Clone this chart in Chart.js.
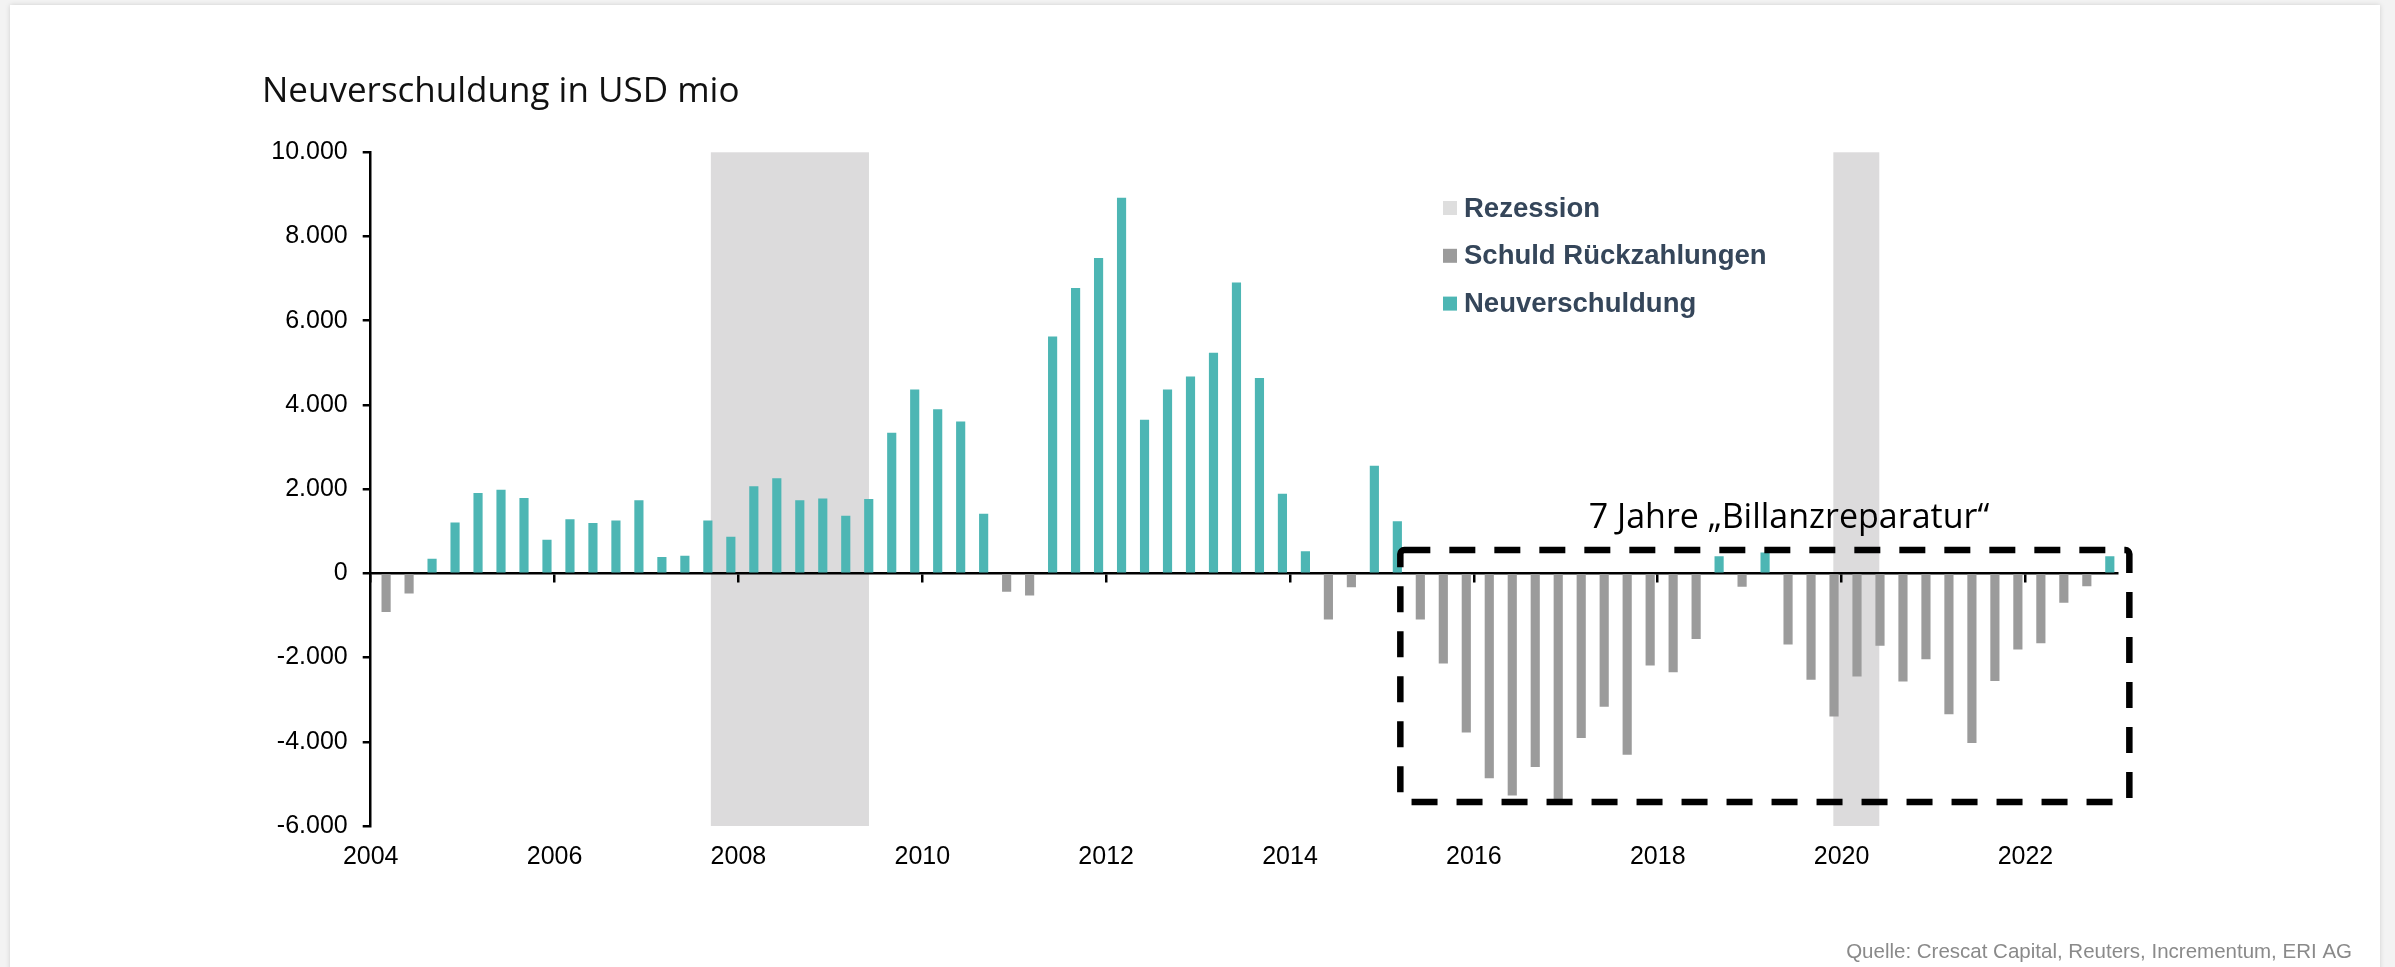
<!DOCTYPE html>
<html>
<head>
<meta charset="utf-8">
<title>Neuverschuldung in USD mio</title>
<script src="https://cdn.jsdelivr.net/npm/chart.js@4.4.1/dist/chart.umd.min.js"></script>
<style>
    html, body {
        margin: 0;
        padding: 0;
        background: #f3f3f3;
        overflow: hidden;
    }

    /* White card the chart sits on */
    #card {
        position: absolute;
        left: 10px;
        top: 5px;
        width: 2370px;
        height: 990px;
        background: #ffffff;
        box-shadow: 0 0 5px rgba(0, 0, 0, 0.15);
    }

    #chart {
        position: absolute;
        left: 0;
        top: 0;
    }
</style>
</head>
<body>
<div id="card"></div>
<canvas id="chart" width="2395" height="967"></canvas>

<script>
// Years covered by the chart, each one has four quarterly bars
let years = [2004, 2005, 2006, 2007, 2008, 2009, 2010, 2011, 2012, 2013,
             2014, 2015, 2016, 2017, 2018, 2019, 2020, 2021, 2022];
let quarters = ['Q1', 'Q2', 'Q3', 'Q4'];

// Net new debt per quarter in USD mio (negative = debt repayment)
let netDebt = [
    -910, -470, 340, 1200,        // 2004
    1900, 1980, 1780, 790,        // 2005
    1280, 1190, 1250, 1730,       // 2006
    380, 410, 1250, 860,          // 2007
    2060, 2250, 1730, 1770,       // 2008
    1360, 1760, 3330, 4360,       // 2009
    3890, 3600, 1410, -430,       // 2010
    -520, 5620, 6770, 7480,       // 2011
    8910, 3640, 4360, 4670,       // 2012
    5230, 6900, 4630, 1880,       // 2013
    520, -1090, -320, 2550,       // 2014
    1230, -1090, -2130, -3770,    // 2015
    -4860, -5270, -4590, -5380,   // 2016
    -3900, -3160, -4300, -2180,   // 2017
    -2340, -1550, 400, -310,      // 2018
    490, -1680, -2520, -3390,     // 2019
    -2440, -1710, -2560, -2030,   // 2020
    -3340, -4020, -2550, -1800,   // 2021
    -1650, -690, -300, 400        // 2022
];

// Recession periods (decimal years)
let recessions = [
    [2007.70, 2009.42],
    [2019.91, 2020.41]
];

// Tick labels
let yearTicks = [2004, 2006, 2008, 2010, 2012, 2014, 2016, 2018, 2020, 2022];
let valueTicks = [-6000, -4000, -2000, 0, 2000, 4000, 6000, 8000, 10000];

// The dashed "7 Jahre" box, in data units
let repairBox = {
    from: 2015.20, to: 2023.13,
    top: 553, bottom: -5430,
    text: '7 Jahre \u201EBillanzreparatur\u201C',
    textX: 2017.25, textY: 1070
};

let titleText = 'Neuverschuldung in USD mio';
let sourceText = 'Quelle: Crescat Capital, Reuters, Incrementum, ERI AG';

// Colors
let tealColor = '#4db6b4';
let greyColor = '#9b9b9b';
let recessionColor = '#dcdbdc';

// Bars sit about two thirds into their quarter
let barPosInQuarter = 0.67;

// Split the quarters into repayments (grey) and new debt (teal)
let repayPoints = [];
let newDebtPoints = [];
years.forEach((year, i) => {
    quarters.forEach((q, j) => {
        let value = netDebt[i * 4 + j];
        let point = { x: year + (j + barPosInQuarter) / 4, y: value };
        if (value < 0) {
            repayPoints.push(point);
        } else {
            newDebtPoints.push(point);
        }
    });
});

// Year ticks for both x axes
function setYearTicks(scale) {
    scale.ticks = yearTicks.map(v => ({ value: v }));
}

// Draws the recession shading, the dashed box, legend, title and source
const decorations = {
    id: 'decorations',

    beforeDraw(chart) {
        let { ctx, chartArea } = chart;
        let x = chart.scales.x;

        ctx.save();
        ctx.fillStyle = recessionColor;
        recessions.forEach(([start, end]) => {
            let x0 = x.getPixelForValue(start);
            let x1 = x.getPixelForValue(end);
            ctx.fillRect(x0, chartArea.top, x1 - x0, chartArea.bottom - chartArea.top);
        });
        ctx.restore();
    },

    afterDraw(chart) {
        let { ctx } = chart;
        let x = chart.scales.x;
        let y = chart.scales.y;

        ctx.save();

        // Dashed box around the repayment years
        let bx0 = x.getPixelForValue(repairBox.from);
        let bx1 = x.getPixelForValue(repairBox.to);
        let by0 = y.getPixelForValue(repairBox.top);
        let by1 = y.getPixelForValue(repairBox.bottom);
        ctx.strokeStyle = '#000000';
        ctx.lineWidth = 6.5;
        ctx.setLineDash([26, 19]);
        ctx.beginPath();
        if (ctx.roundRect) {
            ctx.roundRect(bx0, by0, bx1 - bx0, by1 - by0, 4);
        } else {
            ctx.rect(bx0, by0, bx1 - bx0, by1 - by0);
        }
        ctx.stroke();
        ctx.setLineDash([]);

        // Box label
        ctx.fillStyle = '#000000';
        ctx.font = '34px "Open Sans", "Noto Sans", sans-serif';
        ctx.textAlign = 'left';
        ctx.textBaseline = 'alphabetic';
        ctx.fillText(repairBox.text, x.getPixelForValue(repairBox.textX), y.getPixelForValue(repairBox.textY));

        // Title
        ctx.fillStyle = '#111111';
        ctx.font = '35px "Open Sans", "Noto Sans", sans-serif';
        ctx.fillText(titleText, 262, 102);

        // Legend: recession first, then the two bar series
        let legendItems = [{ label: 'Rezession', color: '#dedede' }];
        chart.data.datasets.forEach(ds => {
            legendItems.push({ label: ds.label, color: ds.backgroundColor });
        });
        ctx.font = 'bold 27.5px "Liberation Sans", Arial, sans-serif';
        ctx.textBaseline = 'middle';
        legendItems.forEach((item, i) => {
            let cy = 208 + i * 47.8;
            ctx.fillStyle = item.color;
            ctx.fillRect(1443, cy - 7, 14, 14);
            ctx.fillStyle = '#35465a';
            ctx.fillText(item.label, 1464, cy + 1);
        });

        // Source line
        ctx.font = '20.5px "Liberation Sans", Arial, sans-serif';
        ctx.fillStyle = '#8a8a8a';
        ctx.textAlign = 'right';
        ctx.textBaseline = 'alphabetic';
        ctx.fillText(sourceText, 2352, 958);

        ctx.restore();
    }
};

let ctx = document.getElementById('chart');

let debtChart = new Chart(ctx, {
    type: 'bar',
    data: {
        datasets: [{
            label: 'Schuld R\u00FCckzahlungen',
            data: repayPoints,
            backgroundColor: greyColor,
            xAxisID: 'x',
            yAxisID: 'y',
            grouped: false,
            barThickness: 8.5,
            borderWidth: 0
        }, {
            label: 'Neuverschuldung',
            data: newDebtPoints,
            backgroundColor: tealColor,
            xAxisID: 'x',
            yAxisID: 'y',
            grouped: false,
            barThickness: 8.5,
            borderWidth: 0
        }]
    },
    options: {
        responsive: false,
        animation: false,
        layout: {
            padding: { left: 240.7, right: 277.6, top: 152.3, bottom: 81 }
        },
        plugins: {
            legend: { display: false },
            tooltip: { enabled: false }
        },
        scales: {
            // Bottom axis: only the year labels
            x: {
                type: 'linear',
                min: 2004,
                max: 2023,
                offset: false,
                grid: { display: false, drawTicks: false, offset: false },
                border: { display: false },
                afterBuildTicks: setYearTicks,
                afterFit: scale => { scale.height = 60; },
                ticks: {
                    color: '#000000',
                    padding: 16,
                    maxRotation: 0,
                    font: { family: '"Liberation Sans", Arial, sans-serif', size: 25 },
                    callback: value => String(value)
                }
            },
            // Zero line with the year tick marks
            xZero: {
                type: 'linear',
                position: { y: 0 },
                min: 2004,
                max: 2023,
                offset: false,
                z: 1,
                afterBuildTicks: setYearTicks,
                ticks: { display: false },
                grid: {
                    drawOnChartArea: false,
                    drawTicks: true,
                    tickLength: 8,
                    offset: false,
                    color: '#000000',
                    lineWidth: 2.5
                },
                border: { display: true, color: '#000000', width: 2.5 }
            },
            y: {
                position: 'left',
                min: -6000,
                max: 10000,
                afterBuildTicks: scale => {
                    scale.ticks = valueTicks.map(v => ({ value: v }));
                },
                afterFit: scale => { scale.width = 130; },
                grid: {
                    drawOnChartArea: false,
                    drawTicks: true,
                    tickLength: 8,
                    color: '#000000',
                    lineWidth: 2.5
                },
                border: { display: true, color: '#000000', width: 2.5 },
                ticks: {
                    color: '#000000',
                    padding: 15,
                    font: { family: '"Liberation Sans", Arial, sans-serif', size: 25 },
                    callback: value => value.toLocaleString('de-DE')
                }
            }
        }
    },
    plugins: [decorations]
});
</script>
</body>
</html>
